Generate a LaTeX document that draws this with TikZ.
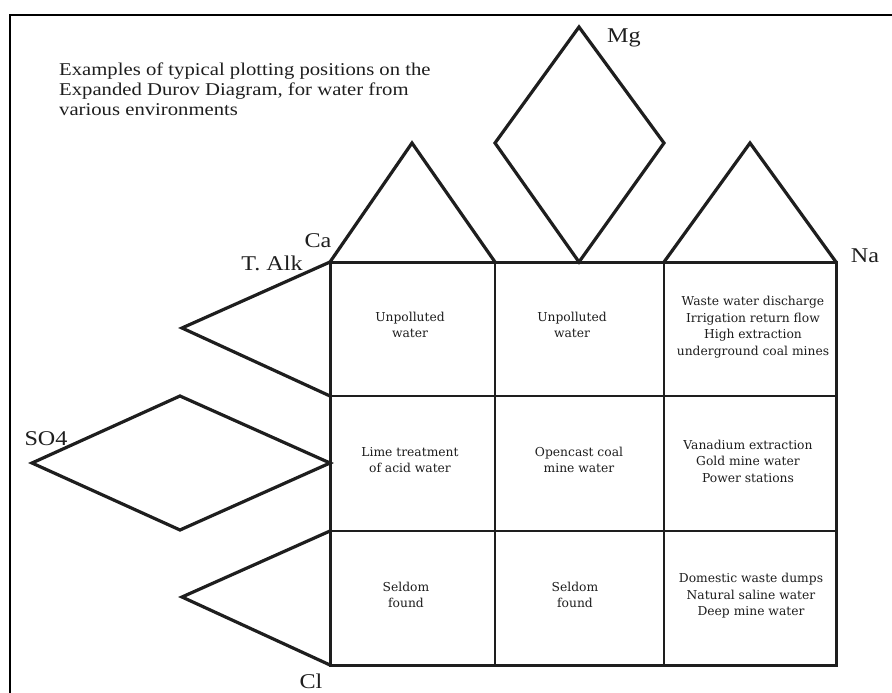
\documentclass[tikz,border=0pt]{standalone}
\usepackage{fontspec}
\setmainfont{Liberation Serif}
\newfontfamily\labelfont{Liberation Serif}[FakeStretch=1.15]
\newfontfamily\titlefont{Liberation Serif}[FakeStretch=1.15]
\newfontfamily\cellfont{DejaVu Serif}
\definecolor{ink}{HTML}{1E1E1E}
\begin{document}
\begin{tikzpicture}[x=1pt,y=-1pt,
  shapeline/.style={draw=ink, line width=3.2pt, line join=miter, line cap=round},
  outergrid/.style={draw=ink, line width=3.0pt, line join=miter},
  innergrid/.style={draw=ink, line width=1.9pt},
  framelines/.style={draw=black, line width=2pt},
  lbl/.style={font=\labelfont\fontsize{21}{21}\selectfont, text=ink, inner sep=0pt},
  celltext/.style={font=\cellfont\fontsize{12.3}{16.5}\selectfont, text=ink, align=center, inner sep=0pt},
  titletext/.style={font=\titlefont\fontsize{18}{20}\selectfont, text=ink, align=left, inner sep=0pt, anchor=north west}]
\useasboundingbox (0,0) rectangle (892,693);
\fill[white] (0,0) rectangle (892,693);
% frame (cropped box)
\coordinate (fbl) at (10,693);
\coordinate (ftl) at (10,15);
\coordinate (ftr) at (892,15);
\draw[framelines] (fbl) -- (ftl) -- (ftr);
% grid coordinates
\coordinate (g00) at (330,262);
\coordinate (g10) at (495,262);
\coordinate (g20) at (664,262);
\coordinate (g30) at (836,262);
\coordinate (g01) at (330,396);
\coordinate (g31) at (836,396);
\coordinate (g02) at (330,531);
\coordinate (g32) at (836,531);
\coordinate (g03) at (330,665);
\coordinate (g13) at (495,665);
\coordinate (g23) at (664,665);
\coordinate (g33) at (836,665);
% inner grid lines
\draw[innergrid] (g10) -- (g13);
\draw[innergrid] (g20) -- (g23);
\draw[innergrid] (g01) -- (g31);
\draw[innergrid] (g02) -- (g32);
% outer grid
\draw[outergrid] (g00) -- (g30) -- (g33) -- (g03) -- cycle;
% top shapes
\coordinate (caapex) at (412,143);
\coordinate (naapex) at (750,143);
\coordinate (mgtop) at (579,27);
\coordinate (mgleft) at (495,143);
\coordinate (mgright) at (664,143);
\coordinate (mgbottom) at (579,262);
\draw[shapeline] (g00) -- (caapex) -- (g10);
\draw[shapeline] (g20) -- (naapex) -- (g30);
\draw[shapeline] (mgtop) -- (mgright) -- (mgbottom) -- (mgleft) -- cycle;
% left shapes
\coordinate (alkapex) at (182,328);
\coordinate (so4top) at (180,396);
\coordinate (so4left) at (32,463);
\coordinate (so4bottom) at (180,530);
\coordinate (so4right) at (330,463);
\coordinate (clapex) at (182,597);
\draw[shapeline] (g00) -- (alkapex) -- (g01);
\draw[shapeline] (so4top) -- (so4right) -- (so4bottom) -- (so4left) -- cycle;
\draw[shapeline] (g02) -- (clapex) -- (g03);
% labels
\node[lbl] (mg) at (624,38) {Mg};
\node[lbl] (ca) at (318,241) {Ca};
\node[lbl] (talk) at (272,263) {T. Alk};
\node[lbl] (na) at (865,256) {Na};
\node[lbl] (so4) at (46,439) {SO4};
\node[lbl] (cl) at (311,681) {Cl};
% title
\node[titletext] (title) at (59,62.5) {Examples of typical plotting positions on the\\Expanded Durov Diagram, for water from\\various environments};
% cell texts
\node[celltext] (c11) at (410,325) {Unpolluted\\water};
\node[celltext] (c12) at (572,325) {Unpolluted\\water};
\node[celltext] (c13) at (753,327) {Waste water discharge\\Irrigation return flow\\High extraction\\underground coal mines};
\node[celltext] (c21) at (410,460) {Lime treatment\\of acid water};
\node[celltext] (c22) at (579,460) {Opencast coal\\mine water};
\node[celltext] (c23) at (748,461) {Vanadium extraction\\Gold mine water\\Power stations};
\node[celltext] (c31) at (406,595) {Seldom\\found};
\node[celltext] (c32) at (575,595) {Seldom\\found};
\node[celltext] (c33) at (751,596) {Domestic waste dumps\\Natural saline water\\Deep mine water};
\end{tikzpicture}
\end{document}
